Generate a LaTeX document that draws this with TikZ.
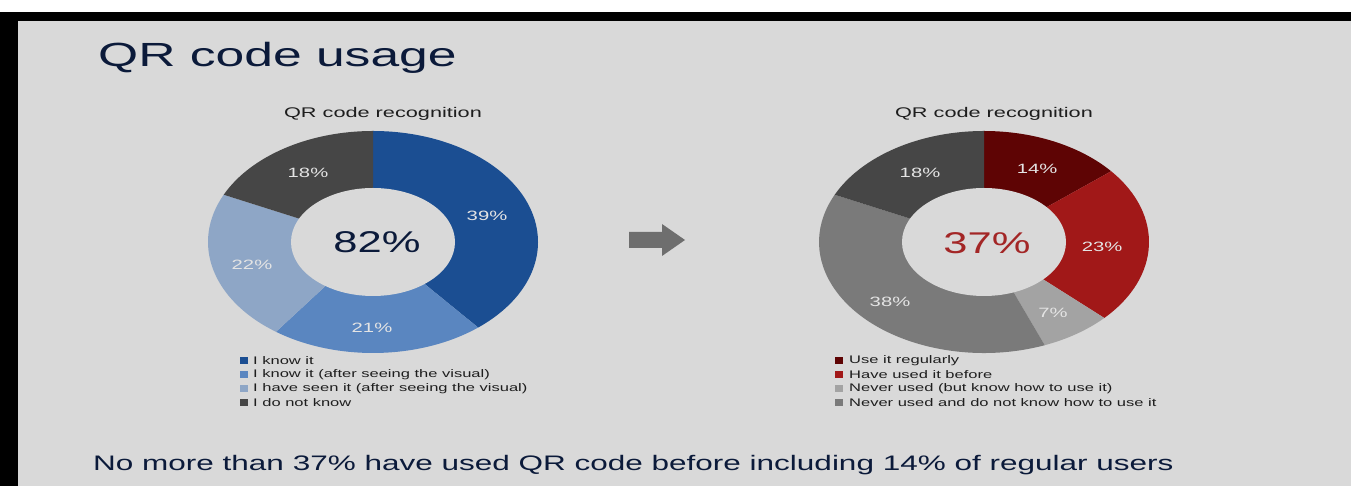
\documentclass[tikz,border=0pt]{standalone}
\usepackage{graphicx}
\usepackage{fontspec}
\setmainfont{Liberation Sans}
\usetikzlibrary{calc}
\definecolor{bg}{HTML}{D9D9D9}
\definecolor{navy}{HTML}{0B1A3A}
\definecolor{txt}{HTML}{1E1E1E}
\definecolor{lbltext}{HTML}{E4E4E4}
\definecolor{bA}{HTML}{1B4E92}
\definecolor{bB}{HTML}{5A86C0}
\definecolor{bC}{HTML}{8EA6C6}
\definecolor{gD}{HTML}{464646}
\definecolor{rA}{HTML}{5E0404}
\definecolor{rB}{HTML}{A11818}
\definecolor{gC}{HTML}{A3A3A3}
\definecolor{gB}{HTML}{7A7A7A}
\definecolor{redtxt}{HTML}{A32626}
\definecolor{arrowc}{HTML}{6E6E6E}
\newcommand{\stx}[3]{\scalebox{#1}[1]{\fontsize{#2}{#2}\selectfont #3}}
\newcommand{\donutseg}[4]{%
  \begin{scope}[shift={(#1)}]
    \fill[#4] (0,0) -- (#2:165 and 111) arc[start angle=#2, end angle=#3, x radius=165, y radius=111] -- cycle;
  \end{scope}}
\tikzset{
  lbl/.style={inner sep=0, text=lbltext},
  leg/.style={inner sep=0, anchor=west, text=txt},
  sq/.style={minimum width=8pt, minimum height=7pt, inner sep=0},
  ctitle/.style={inner sep=0, anchor=base, text=txt}
}
\begin{document}
\begin{tikzpicture}[x=1pt,y=1pt]
\useasboundingbox (0,0) rectangle (1351,486);
\fill[white] (0,0) rectangle (1351,486);
\fill[black] (0,465) rectangle (1351,474);
\fill[black] (0,0) rectangle (18,474);
\fill[bg] (18,0) rectangle (1351,465);

% title
\node[inner sep=0, anchor=base west, text=navy] (title) at (98,419) {\stx{1.54}{33.5}{QR code usage}};

% chart titles
\node[ctitle] (t1) at (383,368) {\stx{1.55}{14}{QR code recognition}};
\node[ctitle] (t2) at (994,368) {\stx{1.55}{14}{QR code recognition}};

% left donut
\coordinate (L) at (373,244);
\donutseg{L}{90}{-50.4}{bA}
\donutseg{L}{-50.4}{-126}{bB}
\donutseg{L}{-126}{-205.2}{bC}
\donutseg{L}{-205.2}{-270}{gD}
\fill[bg] (L) ellipse[x radius=82, y radius=54];

% right donut
\coordinate (R) at (984,244);
\donutseg{R}{90}{39.6}{rA}
\donutseg{R}{39.6}{-43.2}{rB}
\donutseg{R}{-43.2}{-68.4}{gC}
\donutseg{R}{-68.4}{-205.2}{gB}
\donutseg{R}{-205.2}{-270}{gD}
\fill[bg] (R) ellipse[x radius=82, y radius=54];

% labels left
\node[lbl] (l39) at (487,270) {\stx{1.5}{13.5}{39\%}};
\node[lbl] (l21) at (372,158) {\stx{1.5}{13.5}{21\%}};
\node[lbl] (l22) at (252,221) {\stx{1.5}{13.5}{22\%}};
\node[lbl] (l18) at (308,313) {\stx{1.5}{13.5}{18\%}};
\node[inner sep=0, text=navy] (l82) at (377,244) {\stx{1.45}{30}{82\%}};

% labels right
\node[lbl] (r14) at (1037,317) {\stx{1.5}{13.5}{14\%}};
\node[lbl] (r23) at (1102,239) {\stx{1.5}{13.5}{23\%}};
\node[lbl] (r7) at (1053,173) {\stx{1.5}{13.5}{7\%}};
\node[lbl] (r38) at (890,184) {\stx{1.5}{13.5}{38\%}};
\node[lbl] (r18) at (920,313) {\stx{1.5}{13.5}{18\%}};
\node[inner sep=0, text=redtxt] (r37) at (987,243) {\stx{1.45}{30}{37\%}};

% arrow
\fill[arrowc] (629,254) -- (662,254) -- (662,262) -- (685,246) -- (662,230) -- (662,238) -- (629,238) -- cycle;

% left legend
\node[sq, fill=bA] (ls1) at (244,125) {};
\node[sq, fill=bB] (ls2) at (244,111) {};
\node[sq, fill=bC] (ls3) at (244,97) {};
\node[sq, fill=gD] (ls4) at (244,83) {};
\node[leg] (lt1) at (253,125) {\stx{1.5}{11}{I know it}};
\node[leg] (lt2) at (253,111) {\stx{1.5}{11}{I know it (after seeing the visual)}};
\node[leg] (lt3) at (253,97) {\stx{1.5}{11}{I have seen it (after seeing the visual)}};
\node[leg] (lt4) at (253,83) {\stx{1.5}{11}{I do not know}};

% right legend
\node[sq, fill=rA] (rs1) at (839,125) {};
\node[sq, fill=rB] (rs2) at (839,111) {};
\node[sq, fill=gC] (rs3) at (839,97) {};
\node[sq, fill=gB] (rs4) at (839,83) {};
\node[leg] (rt1) at (849,125) {\stx{1.5}{11}{Use it regularly}};
\node[leg] (rt2) at (849,111) {\stx{1.5}{11}{Have used it before}};
\node[leg] (rt3) at (849,97) {\stx{1.5}{11}{Never used (but know how to use it)}};
\node[leg] (rt4) at (849,83) {\stx{1.5}{11}{Never used and do not know how to use it}};

% bottom statement
\node[inner sep=0, anchor=base west, text=navy] (bottom) at (93,15) {\stx{1.5}{21}{No more than 37\% have used QR code before including 14\% of regular users}};
\end{tikzpicture}
\end{document}
